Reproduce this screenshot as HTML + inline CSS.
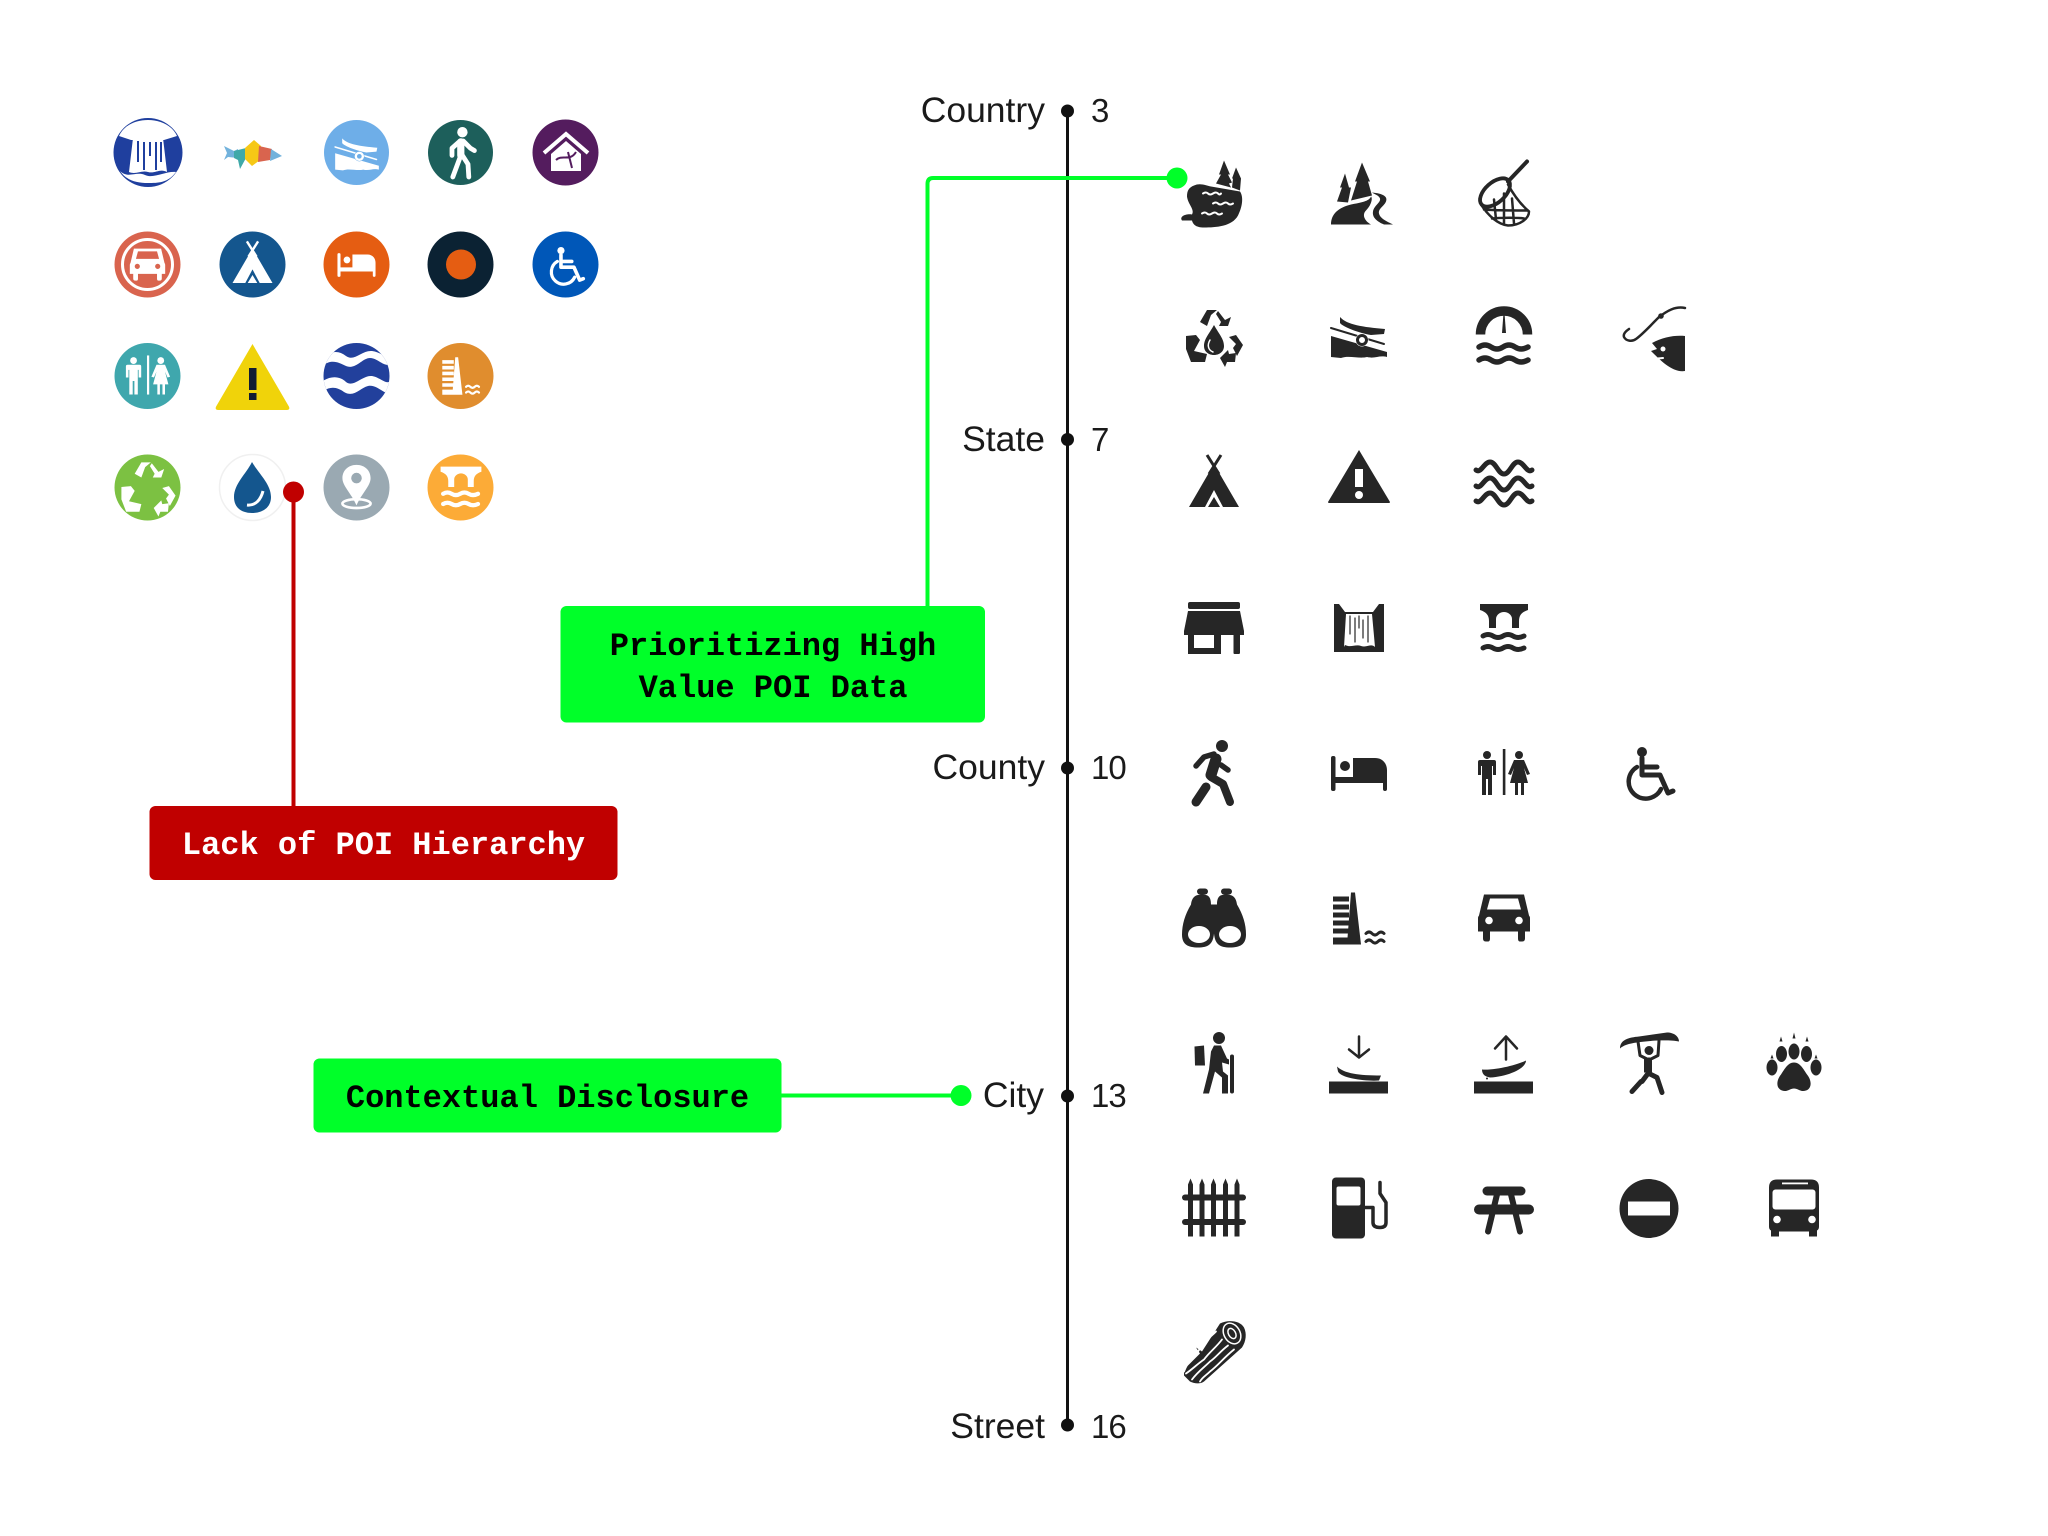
<!DOCTYPE html>
<html lang="en"><head><meta charset="utf-8"><title>POI hierarchy</title>
<style>
html,body{margin:0;padding:0;background:#fff;width:2048px;height:1536px;overflow:hidden}
svg{display:block}
.f{fill:var(--c)}.k{fill:var(--b)}
.s{stroke:var(--c);fill:none;stroke-linecap:round;stroke-linejoin:round}
.x{stroke:var(--b);fill:none;stroke-linecap:round;stroke-linejoin:round}
.d{--c:#262626;--b:#fff}
.lab{font:35.5px "Liberation Sans",sans-serif;fill:#1a1a1a}
.num{font:33px "Liberation Sans",sans-serif;fill:#1a1a1a;letter-spacing:-1px}
.mono{font:bold 32px "Liberation Mono",monospace;text-anchor:middle}
</style></head><body>
<svg width="2048" height="1536" viewBox="0 0 2048 1536" xmlns="http://www.w3.org/2000/svg">
<defs>
<g id="lake"><path class="f" d="M-20-8C-14-11-8-8-3-7L26-2C30 4 28 14 24 22 18 33 2 34-10 34-18 34-21 31-22 27L-32 27C-35 23-28 20-22 21-19 16-26 11-27 3-27-3-25-6-20-8Z"/><path class="x" stroke-width="2" d="M-11 0q3-2 5 0t5 0 5 0 3 0M-1 10q3-2 5 0t5 0 5 0 5 0M-12 20q3-2 5 0t5 0 5 0 5 0"/><path class="f" d="M10-33 5-19H7L2-10 17-6 15-10 18-11 14-19H16ZM22-26 18-15H19L18-6 26-3 27-15Z"/></g>
<g id="road"><path class="f" d="M-28 31C-28 20-20 14-8 11 2 9 10 8 12 3 14 5 12 12 7 17 3 21 5 27 12 31Z"/><path class="f" d="M13-1C24 0 29 3 27 8 25 13 19 15 20 20 21 25 28 28 34 31H25C18 28 13 24 14 18 15 12 22 9 21 5 20 2 16 1 13-1Z"/><path class="f" d="M3-31-4-12-2-12-8 7 13 2 9-12 11-12ZM-14-20-19-6H-17L-22 8-11 9-8-6-10-6Z"/></g>
<g id="net"><path class="s" stroke-width="4" d="M4-12 23-32"/><ellipse class="s" cx="-9" cy="-1" rx="18" ry="10" stroke-width="3.800" transform="rotate(-42 -9 -1)"/><path class="s" stroke-width="2.500" d="M-23 11C-16 22-6 31 4 32 16 32 25 25 25 18 18 12 11 4 4-9M-20 16C-8 17 10 17 24 17M-12 25C-2 24 14 24 20 25M-10 6-8 26M0 0 0 31M8 5 10 30"/></g>
<g id="arrows"><path class="f" d="M-14-15-7-27H3L-3-22-7-11ZM2-23 4-26 11-17 17-20 14-11H5L7-15ZM-28-1-18-2-14 3-20 14-7 17-9 25H-23L-28 12ZM15 0 22-2 29 8 23 19 19 11 22 7ZM6 21 14 13 15 17 22 16 21 25 13 25 11 30Z"/></g>
<g id="recycle"><use href="#arrows"/><path class="f" d="M0-12C5-3 10 2 10 9 10 15 5 18 0 18-5 18-10 15-10 9-10 2-5-3 0-12Z"/><path class="x" stroke-width="1.500" d="M-4 3C-7 8-6 13-1 15"/></g>
<g id="ramp"><path class="f" d="M-28-1 28 15V20C20 18 16 22 8 20 0 22-10 18-18 21L-28 20Z"/><path class="f" d="M-19-20C-12-12 4-10 26-8L25-3 12-2C0-4-16-10-19-14Z"/><path class="x" stroke-width="4.500" d="M-28-10 25 7"/><path class="s" stroke-width="2" d="M-28-9 25 7"/><circle cx="3" cy="3" r="6.500" class="k"/><circle cx="3" cy="3" r="4.500" class="s" stroke-width="3"/></g>
<g id="gauge"><path class="s" stroke-width="9.500" style="stroke-linecap:butt" d="M-23.500-2.500A23.500 23.500 0 0 1 23.500-2.500"/><path class="f" d="M-.5-24H.5L2-4H-2Z"/><path class="s" stroke-width="5.500" d="M-25 10q6-4 12 0t12 0 12 0 13 0M-25 23q6-4 12 0t12 0 12 0 13 0"/></g>
<g id="hook"><path class="s" stroke-width="2.500" d="M36-29C26-31 18-26 10-20 4-14-6-3-13 2-17 5-23 4-25 0-26-3-23-6-20-8"/><circle class="f" cx="12" cy="-21" r="2.800"/><path class="f" d="M36-1C26-2 14 0 3 6L8 12 2 14C12 24 24 36 36 34Z"/><circle class="k" cx="14" cy="12" r="2.500"/><path class="x" stroke-width="2" d="M3 22 14 21"/></g>
<g id="tent"><path class="s" stroke-width="3" style="stroke-linecap:butt" d="M-7-27 5-8M7-27-5-8"/><path class="f" d="M0-18 25 25H9L0 8-9 25H-25Z"/><path class="f" d="M0 15 6 25H-6Z"/></g>
<g id="warn"><path class="f" d="M0-32 31 20Q31 21 30 21H-30Q-31 21-31 20Z"/><rect class="k" x="-4" y="-13" width="8" height="18"/><circle class="k" cx="0" cy="13" r="4"/></g>
<g id="waves"><path class="s" stroke-width="5" d="M-28-12C-23-8-20-20-14-20S-6-8 0-8 8-20 14-20 23-8 28-12M-28 4C-23 8-20-4-14-4S-6 8 0 8 8-4 14-4 23 8 28 4M-28 19C-23 23-20 11-14 11S-6 23 0 23 8 11 14 11 23 23 28 19"/></g>
<g id="store"><rect class="f" x="-26" y="-26" width="52" height="7" rx="2"/><path class="f" d="M-26-17H26L30 3V7H-30V3Z"/><path class="f" d="M-26 7V26H7V7H0V20H-20V7ZM19.500 7H26V25Q26 26 24 26H21Q19.500 26 19.500 25Z"/></g>
<g id="falls"><path class="f" d="M-25-24-20-24-14-16H14L20-24 25-24V24H-25Z"/><path class="k" d="M-13-14H13L16 19C12 15 8 20 2 18-4 16-8 20-14 17L-15 19Z"/><path class="s" stroke-width="1.200" d="M-9-12V6M-4-10V14M0-12V0M4-8V10M9-12V14"/></g>
<g id="bridge"><path class="f" d="M-24-24H24V-18C18-16 15-13 15-7V0H8V-9C8-13 4-16 0-16S-8-13-8-9V0H-15V-7C-15-13-18-16-24-18Z"/><path class="s" stroke-width="5" d="M-21 8q5-3 10 0t10 0 10 0 11 0M-21 20q5-3 10 0t10 0 10 0 11 0"/></g>
<g id="walk"><circle class="f" cx="8" cy="-26" r="6"/><path class="s" stroke-width="11" d="M2-13-3 3"/><path class="s" stroke-width="8" d="M-3 5 9 12 16 30"/><path class="s" stroke-width="9" d="M-8 15-18 30"/><path class="s" stroke-width="5.500" d="M0-18-10-15-18-6M7-7 14-2"/></g>
<g id="uped"><circle class="f" cx="3" cy="-26" r="6.500"/><path class="s" stroke-width="9" d="M1-14V3"/><path class="s" stroke-width="6" d="M1 3-9 30M3 3 10 14 11 30M-1-14-10-6-10 3M4-15 13-6 18-3"/></g>
<g id="bed"><rect class="f" x="-28" y="-16" width="4.500" height="35" rx="2"/><circle class="f" cx="-14" cy="-6" r="5"/><path class="f" d="M-6-14H16C24-14 28-8 28-2V17A2 2 0 0 1 24 17V11H-25V5H-6Z"/></g>
<g id="wc"><rect class="f" x="-1.200" y="-23" width="2.600" height="46"/><circle class="f" cx="-17" cy="-17" r="4"/><path class="f" d="M-24-12H-10Q-8-12-8-10V3H-11V-6H-12V23H-16V7H-18V23H-22V-6H-23V3H-26V-10Q-26-12-24-12Z"/><circle class="f" cx="15" cy="-17" r="4"/><path class="f" d="M10-12H20L26 2 23 3 20-4 24 11H20V23H17V11H14V23H11V11H6L10-4 7 3 4 2Z"/></g>
<g id="wheel"><circle class="f" cx="-7" cy="-20" r="5"/><path class="s" stroke-width="5" d="M-7-14V3H11L19 21 24 19M-7-5H8"/><path class="s" stroke-width="4.500" d="M-12-5A17 17 0 1 0 12 17"/></g>
<g id="binoc"><rect class="f" x="-17" y="-30" width="11" height="6" rx="3"/><rect class="f" x="7" y="-30" width="11" height="6" rx="3"/><path class="f" d="M-23-14C-22-22-18-24-12-24-6-24-3-22-3-14H3C3-22 6-24 12-24 18-24 22-22 23-14 29-4 32 6 32 16 32 26 26 29 16 29 6 29 1 26 0 15-1 26-6 29-16 29-26 29-32 26-32 16-32 6-29-4-23-14Z"/><ellipse class="k" cx="-15" cy="16" rx="11" ry="8.500"/><ellipse class="k" cx="16" cy="16" rx="11" ry="8.500"/></g>
<g id="dam"><path class="f" d="M-8-26-4-26 2 26H-12ZM-26-22H-10V-17H-26ZM-26-14H-10V-9H-26ZM-26-6H-10V-1H-26ZM-26 2H-10V7H-26ZM-26 10H-10V15H-26ZM-26 19H-10V26H-26Z"/><path class="s" stroke-width="3" d="M7 15q3-3 6 0t6 0 6 0M7 23q3-3 6 0t6 0 6 0"/></g>
<g id="car"><path class="f" d="M-20-24H20L25-3Q26-2 26 0V13H21V20Q21 23 18 23H16Q14 23 14 20V13H-14V20Q-14 23-16 23H-18Q-21 23-21 20V13H-26V0Q-26-2-25-3Z"/><path class="k" d="M-14-20H14L17-9H-17Z"/><circle class="k" cx="-15" cy="2" r="3.800"/><circle class="k" cx="15" cy="2" r="3.800"/></g>
<g id="hiker"><circle class="f" cx="5" cy="-25.500" r="6"/><path class="f" d="M0-18H7L13-5 15-4V1L8-1 9 8 14 12V30H8V14L1 8-5 30H-11L-5 6-3-12Z"/><path class="f" d="M-19.500-17-10-18-9 2-19 2Z"/><rect class="f" x="16" y="-9" width="4" height="39" rx="2"/></g>
<g id="down"><rect class="f" x="-30" y="18" width="59" height="12"/><path class="f" d="M-22 3C-15 10 0 12 22 12L20 17C8 18-18 15-21 8Z"/><path class="s" stroke-width="2.500" d="M0-27V-7M-10-14 0-6 10-14"/></g>
<g id="up"><rect class="f" x="-30" y="18" width="59" height="12"/><path class="f" d="M-22 6C-8 7 14 1 22-3 22 5 4 13-14 14-20 13-22 10-22 6Z"/><path class="s" stroke-width="2.500" d="M2-4V-26M-9-15 2-27 13-15"/><circle class="f" cx="-17" cy="15" r="1"/><circle class="f" cx="-13" cy="12" r="1"/></g>
<g id="carry"><path class="f" d="M-29-15C-29-24-20-26-10-27L18-31C25-31 30-27 30-22 20-24 0-23-12-21-20-20-26-18-29-15Z"/><circle class="f" cx="0" cy="-13" r="4.500"/><path class="s" stroke-width="3" d="M-11-22-9-8-3-5M10-23 9-8 3-5"/><path class="s" stroke-width="8" style="stroke-linecap:butt" d="M-1-6V9"/><path class="s" stroke-width="5" d="M-1 10-7 18M0 10 8 14 13 29M-8 18-17 28"/></g>
<g id="paw"><path class="f" d="M0-1C6-1 9 5 13 11 18 17 18 25 12 27 7 29 4 25 0 25-4 25-7 29-12 27-18 25-18 17-13 11-9 5-6-1 0-1Z"/><ellipse class="f" cx="-22" cy="4" rx="5.500" ry="8"/><ellipse class="f" cx="-12.500" cy="-9.500" rx="5.500" ry="8"/><ellipse class="f" cx="0" cy="-12" rx="5.500" ry="8"/><ellipse class="f" cx="12.500" cy="-9.500" rx="5.500" ry="8"/><ellipse class="f" cx="22" cy="4" rx="5.500" ry="8"/><path class="f" d="M-22-9-23.500-5H-20.500ZM-13-27-14.500-22H-11.500ZM0-31-1.500-25H1.500ZM13-27 11.500-22H14.500ZM22-9 20.500-5H23.500Z"/></g>
<g id="fence"><path class="f" d="M-26-24-23.500-30-21-24V28H-26ZM-14.500-24-12-30-9.500-24V28H-14.500ZM-3-24-.5-30 2-24V28H-3ZM9-24 11.500-30 14-24V28H9ZM20.500-24 23-30 25.500-24V28H20.500Z"/><rect class="f" x="-32" y="-14" width="64" height="6" rx="3"/><rect class="f" x="-32" y="10.500" width="64" height="6" rx="3"/></g>
<g id="gas"><rect class="f" x="-27" y="-31" width="33" height="61" rx="4"/><rect class="k" x="-22.500" y="-22" width="24" height="19" rx="2"/><path class="s" stroke-width="3.500" d="M6-1H14V14Q14 19 21 19 27 19 27 14V-6L21-15V-26"/></g>
<g id="picnic"><rect class="f" x="-21.500" y="-22" width="43" height="9" rx="4.500"/><rect class="f" x="-30" y="-4" width="60" height="10" rx="5"/><path class="s" stroke-width="6" d="M-7-14-16 23M7-14 16 23"/></g>
<g id="noent"><circle class="f" cx="0" cy="0" r="29.500"/><rect class="k" x="-21" y="-7" width="42" height="14"/></g>
<g id="bus"><path class="f" d="M-17-29H17Q25-29 25-21V18Q25 21 23 22V28H15V23H-15V28H-23V22Q-25 21-25 18V-21Q-25-29-17-29Z"/><rect class="k" x="-21.500" y="-19" width="43" height="20" rx="3"/><rect class="k" x="-12" y="-26" width="26" height="1.800"/><circle class="k" cx="-17" cy="11" r="3.800"/><circle class="k" cx="18" cy="11" r="3.800"/></g>
<g id="log"><path class="f" d="M6-30C14-34 26-33 30-26 33-20 32-12 28-6L-10 28C-14 31-20 30-24 28L-30 22V16L-14 0-18-6-12-2Z"/><path class="x" stroke-width="1.800" d="M8-14C2-6-4-2-10 6-16 10-22 16-28 20M14-8C6-2 2 4-4 8-10 14-16 18-22 26M20-4C10 4 4 12-4 18-8 22-12 24-14 28M2-22C-4-16-10-12-16 -2-22 4-26 8-30 18"/><ellipse class="x" cx="18" cy="-20" rx="8" ry="11" transform="rotate(-30 18 -20)" stroke-width="1.500"/><ellipse class="x" cx="18" cy="-20" rx="3.500" ry="5.500" transform="rotate(-30 18 -20)" stroke-width="1.500"/></g>
<g id="pin"><path class="f" d="M0-24C10-24 16-17 16-9 16 0 6 8 0 22-6 8-16 0-16-9-16-17-10-24 0-24Z"/><circle class="k" cx="0" cy="-9" r="6"/><ellipse class="s" cx="0" cy="20" rx="16" ry="5" stroke-width="3"/></g>
</defs>

<!-- left coloured icons -->
<g>
<circle cx="148" cy="152.500" r="34.500" fill="#1f3f9e"/><path fill="#fff" d="M119 136C124 125 136 120 148 120S172 125 177 136L164 140H131Z"/><path fill="#fff" d="M133 138H163L167 172C160 168 155 174 148 172 141 170 136 175 129 172Z"/><path stroke="#1f3f9e" stroke-width="2" d="M138 141V162M144 142V170M150 142V156M156 142V170M161 142V162"/><path fill="#fff" d="M120 171C128 179 136 171 145 175 154 179 165 171 176 172 168 183 158 183 148 183 136 183 126 180 120 171Z"/>
<path fill="#72b2dc" d="M224 146 234 151 238 149 238 158 228 157 224 160 227 153Z"/><path fill="#3fa9a9" d="M234 151 246 148 246 158 240 169 238 160 234 158Z"/><path fill="#f6c816" d="M245 148 254 140 261 146 260 160 252 166 245 159Z"/><path fill="#d9644e" d="M259 146 272 149 270 160 258 162Z"/><path fill="#72b2dc" d="M271 149 282 156 270 161Z"/>
<circle cx="356.500" cy="152.500" r="32.500" fill="#6eaee8"/><g transform="translate(357 154) scale(.78)" style="--c:#fff;--b:#6eaee8"><use href="#ramp"/></g>
<circle cx="460.500" cy="152.500" r="32.500" fill="#1d5f5b"/><g transform="translate(460 153) scale(.8)" style="--c:#fff;--b:#1d5f5b"><use href="#uped"/></g>
<circle cx="565.500" cy="152.500" r="33" fill="#541c5e"/><path d="M544 153 566 134 588 153" fill="none" stroke="#fff" stroke-width="4"/><path fill="#fff" d="M551 154 566 141 581 154V171H551Z"/><path d="M556 160C562 154 570 162 576 152M568 152 572 168" stroke="#541c5e" stroke-width="2" fill="none"/>

<circle cx="147.500" cy="264.500" r="33" fill="#d9644e"/><circle cx="147.500" cy="264.500" r="25" fill="none" stroke="#fff" stroke-width="3"/><g transform="translate(147.500 265) scale(.68)" style="--c:#fff;--b:#d9644e"><use href="#car"/></g>
<circle cx="252.500" cy="264.500" r="33" fill="#14568e"/><g transform="translate(252.500 263) scale(.8)" style="--c:#fff;--b:#14568e"><use href="#tent"/></g>
<circle cx="356.500" cy="264.500" r="33" fill="#e55d12"/><g transform="translate(356.500 264) scale(.68)" style="--c:#fff;--b:#e55d12"><use href="#bed"/></g>
<circle cx="460.500" cy="264.500" r="33" fill="#0b2233"/><circle cx="461" cy="264.500" r="15" fill="#e55d12"/>
<circle cx="565.500" cy="264.500" r="33" fill="#0057b8"/><g transform="translate(566 265) scale(.72)" style="--c:#fff;--b:#0057b8"><use href="#wheel"/></g>

<circle cx="147.500" cy="376" r="33" fill="#3fa7ad"/><g transform="translate(148 375) scale(.85)" style="--c:#fff;--b:#3fa7ad"><use href="#wc"/></g>
<path d="M252.500 346 288 407Q289 409 287 409H218Q216 409 217 407Z" fill="#f0d30a" stroke="#f0d30a" stroke-width="2"/><rect x="249" y="368" width="7.500" height="22" fill="#111b33"/><rect x="249" y="393" width="7.500" height="7" fill="#111b33"/>
<clipPath id="wv"><circle cx="356.500" cy="376" r="33"/></clipPath><g clip-path="url(#wv)"><rect x="320" y="340" width="74" height="72" fill="#22409c"/><path fill="#fff" d="M320 361C330 350 338 350 346 356 354 362 362 350 372 351 380 352 385 358 392 356V364C384 368 378 358 370 358 362 358 356 370 346 366 338 362 330 358 320 368ZM320 383C330 375 340 376 346 382 354 388 362 375 372 376 382 378 386 386 392 380V393C384 396 378 384 368 386 360 388 354 398 344 392 336 386 328 386 320 394Z"/></g>
<circle cx="460.500" cy="376" r="33" fill="#e08d2e"/><g transform="translate(461 376) scale(.72)" style="--c:#fff;--b:#e08d2e"><use href="#dam"/></g>

<circle cx="147.500" cy="487.500" r="33" fill="#7cc142"/><g transform="translate(148 488) scale(.95)" style="--c:#fff;--b:#7cc142"><use href="#arrows"/></g>
<circle cx="252.500" cy="487.500" r="33" fill="#fff" stroke="#f0f0f0" stroke-width="1.500"/><path fill="#14568e" d="M252 462C259 474 271 484 271 497 271 508 262 513 252 513S234 508 234 497C234 484 246 474 252 462Z"/><path d="M247 505C256 506 261 499 263 491" stroke="#fff" stroke-width="3" fill="none"/>
<circle cx="356.500" cy="487.500" r="33" fill="#9aa9b2"/><g transform="translate(356.500 486) scale(.88)" style="--c:#fff;--b:#9aa9b2"><use href="#pin"/></g>
<circle cx="460.500" cy="487.500" r="33" fill="#fcab37"/><g transform="translate(461 487) scale(.85)" style="--c:#fff;--b:#fcab37"><use href="#bridge"/></g>
</g>

<!-- right dark icons -->
<g class="d">
<use href="#lake" x="1214" y="193.500"/><use href="#road" x="1359" y="193.500"/><use href="#net" x="1504" y="193.500"/>
<use href="#recycle" x="1214" y="337"/><use href="#ramp" x="1359" y="337"/><use href="#gauge" x="1504" y="337"/><use href="#hook" x="1649" y="337"/>
<use href="#tent" x="1214" y="482"/><use href="#warn" x="1359" y="482"/><use href="#waves" x="1504" y="482"/>
<use href="#store" x="1214" y="628"/><use href="#falls" x="1359" y="628"/><use href="#bridge" x="1504" y="628"/>
<use href="#walk" x="1214" y="772"/><use href="#bed" x="1359" y="772"/><use href="#wc" x="1504" y="772"/><use href="#wheel" x="1649" y="772"/>
<use href="#binoc" x="1214" y="918.500"/><use href="#dam" x="1359" y="918.500"/><use href="#car" x="1504" y="918.500"/>
<use href="#hiker" x="1214" y="1063.500"/><use href="#down" x="1359" y="1063.500"/><use href="#up" x="1504" y="1063.500"/><use href="#carry" x="1649" y="1063.500"/><use href="#paw" x="1794" y="1063.500"/>
<use href="#fence" x="1214" y="1208.500"/><use href="#gas" x="1359" y="1208.500"/><use href="#picnic" x="1504" y="1208.500"/><use href="#noent" x="1649" y="1208.500"/><use href="#bus" x="1794" y="1208.500"/>
<use href="#log" x="1214" y="1353.500"/>
</g>

<!-- axis -->
<rect x="1066" y="111" width="3" height="1314" fill="#111"/>
<g fill="#111"><circle cx="1067.500" cy="111" r="6.500"/><circle cx="1067.500" cy="439.500" r="6.500"/><circle cx="1067.500" cy="768" r="6.500"/><circle cx="1067.500" cy="1096" r="6.500"/><circle cx="1067.500" cy="1425" r="6.500"/></g>
<g class="lab" text-anchor="end">
<text x="1045" y="122">Country</text><text x="1045" y="451">State</text><text x="1045" y="779">County</text><text x="1044" y="1107">City</text><text x="1045" y="1438">Street</text>
</g>
<g class="num">
<text x="1091" y="122">3</text><text x="1091" y="451">7</text><text x="1091" y="779">10</text><text x="1091" y="1107">13</text><text x="1091" y="1438">16</text>
</g>

<!-- connectors -->
<path d="M927.500 610V184Q927.500 178 933 178H1176" fill="none" stroke="#00ff29" stroke-width="4"/>
<circle cx="1177" cy="178" r="10.500" fill="#00ff29"/>
<path d="M780 1095.500H961" fill="none" stroke="#00ff29" stroke-width="4"/>
<circle cx="961" cy="1095.500" r="10.500" fill="#00ff29"/>
<path d="M293.500 492V808" fill="none" stroke="#c00000" stroke-width="4"/>
<circle cx="293.500" cy="492" r="10.500" fill="#c00000"/>

<!-- callouts -->
<rect x="560.500" y="606" width="424.500" height="116.500" rx="6" fill="#00ff29"/>
<text class="mono" x="773" y="655" fill="#000">Prioritizing High</text>
<text class="mono" x="773" y="697" fill="#000">Value POI Data</text>
<rect x="149.500" y="806" width="468" height="74" rx="6" fill="#c00000"/>
<text class="mono" x="383.500" y="854" fill="#fff">Lack of POI Hierarchy</text>
<rect x="313.500" y="1058.500" width="468" height="74" rx="6" fill="#00ff29"/>
<text class="mono" x="547.500" y="1107" fill="#000">Contextual Disclosure</text>
</svg>
</body></html>
